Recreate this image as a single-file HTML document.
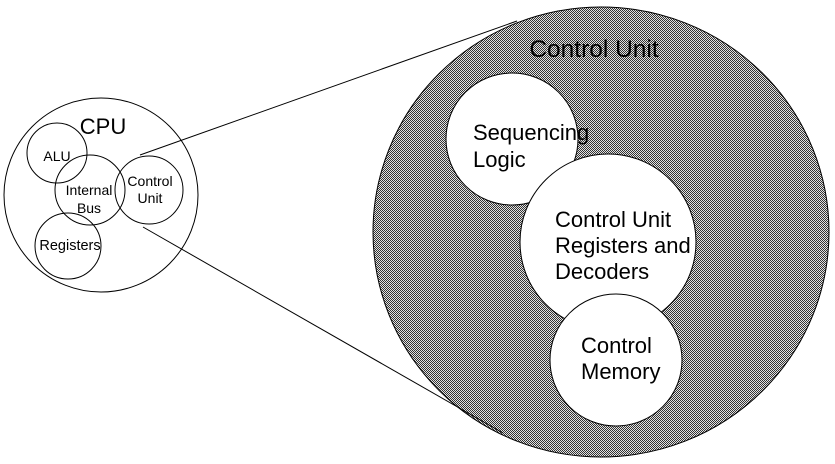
<!DOCTYPE html>
<html><head><meta charset="utf-8"><style>
html,body{margin:0;padding:0;background:#fff;}
svg{display:block;}
text{font-family:"Liberation Sans",Arial,sans-serif;fill:#000;}
</style></head><body>
<svg width="835" height="464" viewBox="0 0 835 464" xmlns="http://www.w3.org/2000/svg">
<defs>
<pattern id="chk" width="2" height="2" patternUnits="userSpaceOnUse">
<rect width="2" height="2" fill="#e2e2e2"/>
<rect width="1" height="1" fill="#333"/>
<rect x="1" y="1" width="1" height="1" fill="#333"/>
</pattern>
</defs>
<ellipse cx="601" cy="232" rx="228" ry="225" fill="url(#chk)" stroke="#000" stroke-width="1"/>
<line x1="140" y1="155" x2="517" y2="21" stroke="#000" stroke-width="1"/>
<line x1="143" y1="227" x2="503" y2="433" stroke="#000" stroke-width="1"/>
<text x="594" y="57" font-size="24.5" text-anchor="middle">Control Unit</text>
<circle cx="512" cy="139" r="66" fill="#fff" stroke="#000"/>
<circle cx="608" cy="242" r="88" fill="#fff" stroke="#000"/>
<circle cx="616" cy="360" r="66" fill="#fff" stroke="#000"/>
<text x="473" y="140" font-size="22">Sequencing</text>
<text x="473" y="167" font-size="22">Logic</text>
<text x="555" y="227" font-size="22">Control Unit</text>
<text x="555" y="253" font-size="22">Registers and</text>
<text x="555" y="279" font-size="22">Decoders</text>
<text x="581" y="353" font-size="22">Control</text>
<text x="581" y="379" font-size="22">Memory</text>
<circle cx="101" cy="195" r="97" fill="none" stroke="#000"/>
<circle cx="57" cy="153" r="30" fill="none" stroke="#000"/>
<circle cx="90" cy="190" r="35" fill="none" stroke="#000"/>
<circle cx="149" cy="190" r="34" fill="none" stroke="#000"/>
<circle cx="68" cy="246" r="33" fill="none" stroke="#000"/>
<text x="103" y="134" font-size="22" text-anchor="middle">CPU</text>
<text x="57" y="161" font-size="14" text-anchor="middle">ALU</text>
<text x="89" y="195" font-size="14" text-anchor="middle">Internal</text>
<text x="89" y="213" font-size="14" text-anchor="middle">Bus</text>
<text x="150" y="186" font-size="14" text-anchor="middle">Control</text>
<text x="150" y="203" font-size="14" text-anchor="middle">Unit</text>
<text x="70" y="250" font-size="14.5" text-anchor="middle">Registers</text>
</svg>
</body></html>
